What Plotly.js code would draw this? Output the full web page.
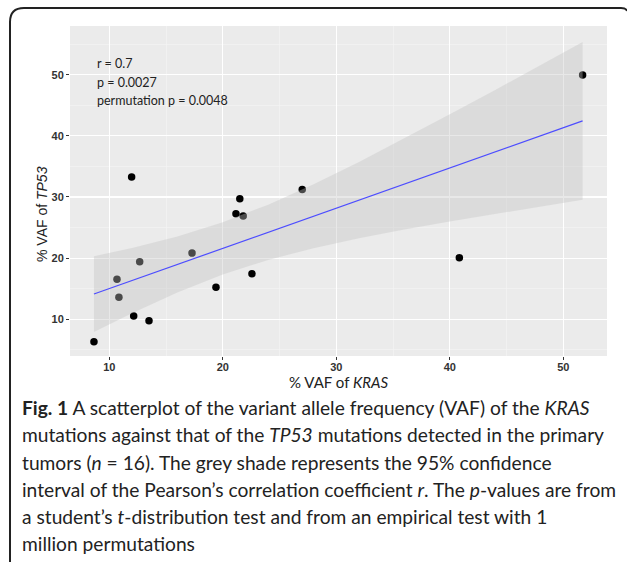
<!DOCTYPE html>
<html>
<head>
<meta charset="utf-8">
<script src="https://cdn.plot.ly/plotly-3.0.1.min.js"></script>
<style>html,body{margin:0;padding:0;background:#fff;}#chart{width:627px;height:563px;}</style>
</head>
<body>
<div id="chart"></div>
<script>
// Data
const kras = [8.65, 10.68, 10.85, 11.97, 12.15, 12.68, 13.5, 17.29, 19.4, 21.16, 21.5, 21.8, 22.57, 27.0, 40.84, 51.7];
const tp53 = [6.34, 16.54, 13.6, 33.27, 10.54, 19.41, 9.77, 20.83, 15.23, 27.25, 29.7, 26.9, 17.45, 31.24, 20.07, 49.95];
// fitted line and confidence band as seen in the picture
const fitX = [8.65, 51.7];
const fitY = [14.13, 42.45];
const bandX = [8.65, 12, 16, 20, 24, 28, 32, 36, 40, 44, 48, 51.7];
const bandUpper = [20.32, 21.66, 23.55, 25.88, 28.75, 32.09, 35.73, 39.57, 43.51, 47.51, 51.56, 55.34];
const bandLower = [7.94, 11.0, 14.39, 17.32, 19.71, 21.63, 23.25, 24.67, 25.99, 27.25, 28.46, 29.56];
const xTicks = [10, 20, 30, 40, 50];
const yTicks = [10, 20, 30, 40, 50];
const statLines = ["r = 0.7", "p = 0.0027", "permutation p = 0.0048"];
const xTitle = '% VAF of <i>KRAS</i>';
const yTitle = '% VAF of <i>TP53</i>';
const captionLines = [
  "<b>Fig. 1</b> A scatterplot of the variant allele frequency (VAF) of the <i>KRAS</i>",
  "mutations against that of the <i>TP53</i> mutations detected in the primary",
  "tumors (<i>n</i> = 16). The grey shade represents the 95% confidence",
  "interval of the Pearson’s correlation coefficient <i>r</i>. The <i>p</i>-values are from",
  "a student’s <i>t</i>-distribution test and from an empirical test with 1",
  "million permutations"
];

// layout geometry (pixels)
const W = 627, H = 563;
const L = 70, R = 607, T = 26, B = 356;
const px = X => (X - L) / (R - L);
const py = Y => (B - Y) / (B - T);

const traces = [
  {x: kras, y: tp53, mode: 'markers', type: 'scatter',
   marker: {color: '#000', size: 7.5}, hoverinfo: 'skip'},
  {x: bandX.concat(bandX.slice().reverse()), y: bandUpper.concat(bandLower.slice().reverse()),
   type: 'scatter', mode: 'lines', fill: 'toself', fillcolor: 'rgba(195,195,195,0.38)',
   line: {width: 0}, hoverinfo: 'skip'},
  {x: fitX, y: fitY, type: 'scatter', mode: 'lines',
   line: {color: '#4d4dff', width: 1.2}, hoverinfo: 'skip'}
];

const annotations = [];
const statY = [64, 82, 100];
statLines.forEach((t, i) => annotations.push({
  text: t, xref: 'paper', yref: 'paper', x: px(95), y: py(statY[i]),
  xanchor: 'left', yanchor: 'middle', showarrow: false,
  font: {family: 'Lato, sans-serif', size: 12.5, color: '#222'}
}));
annotations.push({
  text: xTitle, xref: 'paper', yref: 'paper', x: px(338), y: py(382),
  xanchor: 'center', yanchor: 'middle', showarrow: false,
  font: {family: 'Lato, sans-serif', size: 15, color: '#222'}
});
annotations.push({
  text: yTitle, xref: 'paper', yref: 'paper', x: px(42), y: py(214), textangle: -90,
  xanchor: 'center', yanchor: 'middle', showarrow: false,
  font: {family: 'Liberation Sans, Arial, sans-serif', size: 14, color: '#222'}
});
captionLines.forEach((t, i) => annotations.push({
  text: t, xref: 'paper', yref: 'paper', x: px(20), y: py(408 + 27 * i),
  xanchor: 'left', yanchor: 'middle', showarrow: false, align: 'left',
  font: {family: 'Lato, sans-serif', size: 19.2, color: '#222'}
}));

const frame = 'M ' + px(10) + ',' + py(562) + ' L ' + px(10) + ',' + py(22) +
  ' Q ' + px(10) + ',' + py(8) + ' ' + px(24) + ',' + py(8) +
  ' L ' + px(621) + ',' + py(8) + ' Q ' + px(626) + ',' + py(8) + ' ' + px(627) + ',' + py(11);

const axisCommon = {
  showline: false, zeroline: false, ticks: 'outside', ticklen: 3, tickwidth: 1, tickcolor: '#333',
  tickfont: {family: 'Liberation Sans, Arial, sans-serif', size: 11, color: '#333', weight: 'bold'},
  gridcolor: '#ffffff', gridwidth: 1.1, showgrid: true
};

const layout = {
  width: W, height: H,
  margin: {l: L, r: W - R, t: T, b: H - B, pad: 0},
  paper_bgcolor: '#ffffff', plot_bgcolor: '#ebebeb',
  showlegend: false,
  xaxis: Object.assign({}, axisCommon, {
    range: [6.54, 53.85], tickvals: xTicks, ticktext: xTicks.map(String), ticklabelstandoff: -2,
    minor: {tickvals: [5, 15, 25, 35, 45, 55], showgrid: true, gridcolor: '#f5f5f5', gridwidth: 0.6, ticks: ''}
  }),
  yaxis: Object.assign({}, axisCommon, {
    range: [4.0, 57.96], tickvals: yTicks, ticktext: yTicks.map(String),
    minor: {tickvals: [5, 15, 25, 35, 45, 55], showgrid: true, gridcolor: '#f5f5f5', gridwidth: 0.6, ticks: ''}
  }),
  annotations: annotations,
  shapes: [{type: 'path', xref: 'paper', yref: 'paper', path: frame, line: {color: '#222', width: 2}}]
};

Plotly.newPlot('chart', traces, layout, {displayModeBar: false, staticPlot: true});
</script>
</body>
</html>
